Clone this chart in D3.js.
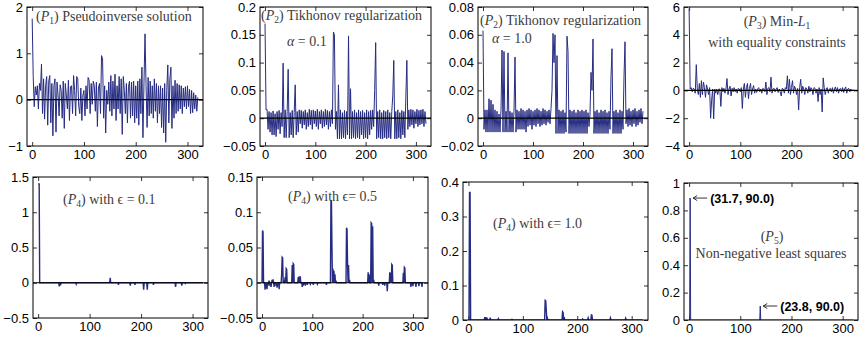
<!DOCTYPE html>
<html>
<head>
<meta charset="utf-8">
<script src="https://cdn.jsdelivr.net/npm/d3@7"></script>
<style>
  body { margin: 0; background: #fff; }
  svg { display: block; }
  .tick text { font-family: "Liberation Sans", Arial, sans-serif; font-size: 13px; fill: #000; }
  .title { font-family: "Liberation Serif", "Times New Roman", serif; font-size: 14px; fill: #3c3c3c; }
  .note { font-family: "Liberation Sans", Arial, sans-serif; font-size: 12.5px; font-weight: bold; fill: #000; }
</style>
</head>
<body>
<div id="chart"></div>
<script>
// ---- data ----
const xTicks = [0, 100, 200, 300];
const xDomain = [-10, 330];
const seriesLength = 321;

// dense series, one value every 2 samples (0, 2, 4, ... 320)
const p1Values = [
  1.75, 0.5, -0.15, 0.28, 0.1, 0.3, -0.2, 0.35, 0.2, 0.77,
  -0.3, 0.45, -0.42, 0.3, 0.5, -0.55, 0.4, 0.52, -0.5, 0.35,
  -0.78, 0.3, 0.45, -0.7, 0.38, 0.1, -0.35, 0.32, 0.2, -0.4,
  0.4, -0.62, 0.35, 0.1, -0.2, 0.42, -0.45, 0.28, 0.3, -0.3,
  0.52, 0.2, -0.35, 0.5, 0.45, -0.15, -0.3, 0.25, -0.45, 0.1,
  0.2, -0.35, 0.3, -0.2, 0.48, 0.42, -0.3, 0.35, -0.1, 0.4,
  0.3, -0.25, 0.38, -0.58, 0.25, 0.35, -0.3, 0.95, 0.88, -0.4,
  0.3, -0.72, 0.2, -0.1, 0.38, -0.25, 0.52, -0.35, 0.4, -0.2,
  0.55, -0.45, 0.3, -0.2, 0.5, -0.3, 0.45, -0.75, 0.5, 0.2,
  -0.3, 0.35, -0.5, 0.28, 0.4, -0.4, 0.38, -0.35, 0.4, -0.5,
  0.3, -0.4, 0.4, -0.55, 0.45, -0.3, 0.7, -0.82, 0.38, 1.42,
  0.3, -0.6, 0.48, -0.35, 0.4, -0.3, 0.3, -0.4, 0.45, -0.25,
  0.35, -0.5, 0.3, -0.3, 0.3, -0.6, 0.25, -0.72, 0.35, -0.92,
  0.2, 0.75, -0.5, 0.45, 0.7, -0.62, 0.3, -0.4, 0.42, -0.3,
  0.35, -0.25, 0.32, -0.2, 0.3, -0.3, 0.25, -0.15, 0.28, -0.2,
  0.3, -0.15, 0.22, -0.3, 0.2, -0.28, 0.15, -0.2, 0.1, -0.25, 0.05
];

const p2aValues = [
  0.17, 0.015, 0.016, -0.02, 0.012, -0.025, 0.01, -0.03, 0.013, -0.03,
  0.008, -0.033, 0.012, -0.02, 0.014, -0.028, 0.01, -0.015, 0.099, -0.035,
  0.015, -0.035, 0.012, 0.088, -0.035, 0.01, -0.03, 0.014, -0.035, 0.01,
  0.06, -0.03, 0.012, -0.025, 0.015, -0.01, 0.014, -0.018, 0.012, -0.012,
  0.015, -0.02, 0.01, -0.015, 0.016, -0.012, 0.014, -0.02, 0.015, -0.01,
  0.013, -0.015, 0.016, -0.02, 0.012, -0.01, 0.015, -0.018, 0.012, -0.015,
  0.016, -0.012, 0.014, -0.02, 0.012, -0.015, 0.015, -0.01, 0.155, 0.15,
  -0.02, 0.012, -0.037, 0.06, -0.037, 0.015, -0.037, 0.01, -0.035, 0.014,
  -0.037, 0.012, -0.03, 0.148, -0.037, 0.053, -0.037, 0.012, -0.035, 0.015,
  -0.037, 0.01, -0.035, 0.015, -0.037, 0.012, -0.03, 0.014, -0.037, 0.01,
  -0.035, 0.015, -0.037, 0.012, -0.03, 0.014, -0.02, 0.015, -0.015, 0.05,
  0.136, -0.037, 0.012, -0.035, 0.015, -0.037, 0.01, -0.037, 0.014, -0.035,
  0.012, -0.037, 0.015, -0.035, 0.01, -0.037, 0.012, 0.04, 0.104, -0.037,
  0.012, -0.037, 0.015, -0.035, 0.01, -0.037, 0.014, -0.03, 0.012, -0.035,
  0.038, 0.104, -0.02, 0.015, -0.015, 0.016, -0.012, 0.015, -0.018, 0.012,
  -0.01, 0.016, -0.015, 0.014, -0.012, 0.015, -0.01, 0.016, -0.015, 0.012, -0.01
];

const p2bValues = [
  0.063, -0.008, 0.006, -0.01, 0.006, -0.01, 0.014, -0.01, 0.013, -0.01,
  0.01, -0.01, 0.006, -0.01, 0.005, -0.01, 0.003, -0.01, 0.006, 0.049,
  -0.01, 0.048, -0.01, 0.005, -0.01, 0.047, -0.01, 0.005, -0.01, 0.004,
  -0.01, 0.005, 0.044, -0.01, 0.006, -0.008, 0.005, -0.008, 0.007, -0.008,
  0.006, -0.008, 0.005, -0.01, 0.006, -0.006, 0.007, -0.005, 0.006, -0.008,
  0.005, -0.005, 0.006, -0.006, 0.007, -0.004, 0.006, -0.006, 0.005, -0.005,
  0.007, -0.004, 0.006, -0.005, 0.005, -0.003, 0.006, -0.004, 0.007, 0.02,
  0.061, 0.04, 0.06, -0.011, 0.045, -0.011, 0.006, -0.011, 0.005, -0.011,
  0.006, -0.011, 0.004, -0.01, 0.059, 0.048, -0.011, 0.006, -0.011, 0.005,
  -0.011, 0.006, -0.011, 0.004, -0.011, 0.006, -0.011, 0.005, -0.011, 0.006,
  -0.011, 0.005, -0.011, 0.006, -0.011, 0.004, -0.006, 0.003, 0.033, 0.02,
  0.057, -0.011, 0.005, -0.011, 0.006, -0.011, 0.004, -0.011, 0.006, -0.011,
  0.005, -0.011, 0.006, -0.011, 0.004, -0.011, 0.005, -0.008, 0.03, 0.05,
  -0.011, 0.005, -0.011, 0.006, -0.011, 0.004, -0.011, 0.006, -0.011, 0.005,
  -0.008, 0.03, 0.055, -0.004, 0.006, -0.006, 0.007, -0.005, 0.005, -0.006,
  0.006, -0.004, 0.007, -0.006, 0.005, -0.005, 0.006, -0.003, 0.007, -0.004, 0.005
];

const p3Values = [
  5.9, 0.1, 0.2, -0.1, 0.15, 0.1, -0.2, 1.85, 0.1, -0.3,
  0.5, -0.5, 0.7, -0.3, 0.6, 0.2, -0.5, 0.4, 0.1, -0.3,
  0.2, -2.0, -0.7, 0.1, -2.05, 0.1, -0.2, 0.1, -0.3, 0.1,
  0.1, -1.15, 0.2, -0.1, 0.15, -0.2, 0.1, 0.85, -0.3, 0.1,
  0.3, -0.4, 0.15, -0.1, 0.2, -0.1, 0.1, -0.2, 0.15, 0.1,
  -0.1, 0.2, -1.3, 0.1, 0.5, -0.5, 0.2, 0.5, -0.6, 0.15,
  0.5, -0.3, 0.1, 0.35, -0.2, 0.1, -0.15, 0.1, 0.2, -0.1,
  0.1, -0.2, 0.15, 0.1, -0.1, 0.6, -0.3, 0.15, 0.2, -0.1,
  0.95, -0.2, 0.1, 0.15, -0.1, 0.1, 0.2, -0.15, 0.1, -0.1,
  -0.4, 0.15, 0.1, -0.2, 0.2, 0.1, 1.05, -0.2, 0.8, -0.3,
  0.2, 0.7, -0.2, 0.3, 0.1, -0.3, 0.15, -1.4, 0.2, 0.8,
  -0.2, 0.3, 0.1, -0.3, 0.2, 0.1, -0.2, 0.3, -0.1, 0.2,
  0.1, -0.3, 0.2, 0.15, -0.2, 0.1, -0.8, 0.2, -0.3, 0.1,
  -1.55, 0.9, 0.2, -0.3, 0.1, 0.2, -0.2, 0.1, 0.15, -0.1,
  0.2, -0.2, 0.1, 0.25, -0.1, 0.2, -0.2, 0.1, 0.15, -0.1,
  0.2, -0.15, 0.1, 0.25, -0.2, 0.1, 0.15, -0.1, 0.1, -0.05, 0.05
];

// sparse series: nonzero samples only, all other samples are zero
const p4aIndex = [0, 1, 2, 41, 44, 74, 140, 156, 179, 188, 205, 212, 224, 267, 279, 286];
const p4aValues = [1.4, 1.4, 1.4, -0.05, -0.02, -0.02, 0.07, -0.03, -0.04, -0.03, -0.1, -0.1, -0.03, -0.06, -0.04, -0.01];

const p4bIndex = [1, 2, 6, 8, 10, 12, 14, 16, 18, 20, 22, 24, 28, 30, 34,
  39, 40, 41, 43, 46, 48, 49, 60, 62, 63, 72, 74, 76,
  80, 82, 86, 90, 96, 102, 110, 128,
  137, 138, 139, 141, 143, 145, 147, 168, 169, 170, 172, 174,
  211, 213, 217, 218, 220, 222, 232, 240, 244, 249,
  254, 256, 258, 259, 281, 283, 284, 296, 300, 306, 312, 318];
const p4bValues = [0.074, 0.072, -0.01, -0.008, -0.009, -0.004, 0.003, -0.005, -0.006, 0.004, 0.005, -0.006, -0.005, -0.007, -0.009,
  0.012, 0.036, 0.035, 0.004, 0.008, 0.02, 0.019, 0.025, 0.027, 0.026, 0.008, 0.009, 0.009,
  -0.006, -0.004, -0.004, -0.003, -0.002, -0.003, -0.002, -0.003,
  0.117, 0.115, 0.055, 0.02, 0.017, 0.012, 0.003, 0.078, 0.076, 0.03, 0.025, 0.004,
  0.015, 0.012, 0.085, 0.084, 0.08, 0.004, -0.004, -0.003, -0.004, -0.012,
  0.015, 0.014, 0.026, 0.025, 0.014, 0.022, 0.021, -0.006, -0.005, -0.006, -0.005, -0.006];

const p4cIndex = [2, 3, 30, 32, 34, 40, 55, 80, 141, 142, 143, 145, 173, 174, 176, 210, 220, 226, 227, 261, 289];
const p4cValues = [0.37, 0.37, 0.008, 0.008, 0.007, 0.007, 0.004, 0.002, 0.057, 0.056, 0.03, 0.006, 0.024, 0.022, 0.008, 0.003, 0.006, 0.015, 0.014, 0.006, 0.005];

const p5Index = [2, 139];
const p5Values = [0.89, 0.102];

const p1YTicks = [-1, 0, 1, 2];
const p2aYTicks = [-0.05, 0, 0.05, 0.1, 0.15, 0.2];
const p2bYTicks = [-0.02, 0, 0.02, 0.04, 0.06, 0.08];
const p3YTicks = [-4, -2, 0, 2, 4, 6];
const p4aYTicks = [-0.5, 0, 0.5, 1, 1.5];
const p4bYTicks = [-0.05, 0, 0.05, 0.1, 0.15];
const p4cYTicks = [0, 0.1, 0.2, 0.3, 0.4];
const p5YTicks = [0, 0.2, 0.4, 0.6, 0.8, 1];

// ---- helpers ----
function denseSeries(values) {
  return values.map((v, i) => ({ x: i * 2, y: v }));
}
function sparseSeries(index, values) {
  const lookup = new Map(index.map((k, i) => [k, values[i]]));
  return d3.range(seriesLength).map(k => ({ x: k, y: lookup.has(k) ? lookup.get(k) : 0 }));
}
function fmt(d) {
  return d < 0 ? "\u2212" + Math.abs(d) : String(d);
}

const W = 859, H = 339;
const lineColor = "#262c82";

const svg = d3.select("#chart").append("svg")
  .attr("width", W)
  .attr("height", H);

// title parts: [text, "i" italic | "sub" subscript]
const P = (n) => [["("], ["P", "i"], [n, "sub"], [")"]];
const eps = "\u03f5";

const panels = [
  { box: [27, 7, 203, 146], yDomain: [-1, 2], yTicks: p1YTicks, data: denseSeries(p1Values), zero: true, sw: 1,
    titles: [{ x: 36, y: 21, parts: [...P("1"), [" Pseudoinverse solution"]] }] },
  { box: [260, 7, 431, 146], yDomain: [-0.05, 0.2], yTicks: p2aYTicks, data: denseSeries(p2aValues), zero: true, sw: 1,
    titles: [{ x: 261, y: 20, parts: [...P("2"), [" Tikhonov regularization"]] },
             { x: 287, y: 46, parts: [["\u03b1", "i"], [" = 0.1"]] }] },
  { box: [478, 7, 648, 146], yDomain: [-0.02, 0.08], yTicks: p2bYTicks, data: denseSeries(p2bValues), zero: true, sw: 1,
    titles: [{ x: 480, y: 25, parts: [...P("2"), [" Tikhonov regularization"]] },
             { x: 492, y: 43, parts: [["\u03b1", "i"], [" = 1.0"]] }] },
  { box: [684, 7, 858, 146], yDomain: [-4, 6], yTicks: p3YTicks, data: denseSeries(p3Values), zero: true, sw: 1,
    titles: [{ x: 777, y: 26, anchor: "middle", parts: [...P("3"), [" Min-"], ["L", "i"], ["1", "sub"]] },
             { x: 777, y: 47, anchor: "middle", parts: [["with equality constraints"]] }] },
  { box: [33, 177, 208, 318], yDomain: [-0.5, 1.5], yTicks: p4aYTicks, data: sparseSeries(p4aIndex, p4aValues), zero: true, sw: 1.4,
    titles: [{ x: 63, y: 204, parts: [...P("4"), [" with "], [eps], [" = 0.1"]] }] },
  { box: [257, 177, 428, 318], yDomain: [-0.05, 0.15], yTicks: p4bYTicks, data: sparseSeries(p4bIndex, p4bValues), zero: true, sw: 1.4,
    titles: [{ x: 288, y: 201, parts: [...P("4"), [" with "], [eps], ["= 0.5"]] }] },
  { box: [463, 182, 648, 320], yDomain: [0, 0.4], yTicks: p4cYTicks, data: sparseSeries(p4cIndex, p4cValues), zero: false, sw: 1.4,
    titles: [{ x: 493, y: 228, parts: [...P("4"), [" with "], [eps], ["= 1.0"]] }] },
  { box: [684, 183, 858, 320], yDomain: [0, 1], yTicks: p5YTicks, data: sparseSeries(p5Index, p5Values), zero: false, sw: 1,
    titles: [{ x: 772, y: 241, anchor: "middle", parts: P("5") },
             { x: 771, y: 258, anchor: "middle", parts: [["Non-negative least squares"]] }],
    notes: [{ at: [2, 0.89], text: "(31.7, 90.0)" }, { at: [139, 0.102], text: "(23.8, 90.0)" }] }
];

function addTitle(g, t) {
  const text = g.append("text")
    .attr("class", "title")
    .attr("x", t.x)
    .attr("y", t.y)
    .attr("text-anchor", t.anchor || "start");
  let shifted = false;
  t.parts.forEach(([s, kind]) => {
    const span = text.append("tspan").text(s);
    if (kind === "i") span.attr("font-style", "italic");
    if (kind === "sub") {
      span.attr("font-size", "9.5px").attr("dy", 3);
      shifted = true;
    } else if (shifted) {
      span.attr("dy", -3);
      shifted = false;
    }
  });
}

panels.forEach((p, pi) => {
  const [x0, y0, x1, y1] = p.box;
  const x = d3.scaleLinear().domain(xDomain).range([x0, x1]);
  const y = d3.scaleLinear().domain(p.yDomain).range([y1, y0]);
  const g = svg.append("g");

  g.append("clipPath").attr("id", "clip" + pi)
    .append("rect").attr("x", x0).attr("y", y0).attr("width", x1 - x0).attr("height", y1 - y0);

  // axes: labels left/bottom, mirrored inward ticks on top/right
  const tk = 4;
  g.append("g").attr("transform", `translate(${x0},0)`)
    .call(d3.axisLeft(y).tickValues(p.yTicks).tickFormat(fmt).tickSizeInner(-tk).tickSizeOuter(0).tickPadding(4));
  g.append("g").attr("transform", `translate(${x1},0)`)
    .call(d3.axisRight(y).tickValues(p.yTicks).tickFormat("").tickSizeInner(-tk).tickSizeOuter(0));
  g.append("g").attr("transform", `translate(0,${y1})`)
    .call(d3.axisBottom(x).tickValues(xTicks).tickFormat(fmt).tickSizeInner(-tk).tickSizeOuter(0).tickPadding(4));
  g.append("g").attr("transform", `translate(0,${y0})`)
    .call(d3.axisTop(x).tickValues(xTicks).tickFormat("").tickSizeInner(-tk).tickSizeOuter(0));
  g.selectAll(".domain").remove();
  g.selectAll(".tick line").attr("stroke", "#000").attr("stroke-width", 0.8);

  // data line
  const line = d3.line().x(d => x(d.x)).y(d => y(d.y));
  g.append("path")
    .datum(p.data)
    .attr("clip-path", `url(#clip${pi})`)
    .attr("fill", "none")
    .attr("stroke", lineColor)
    .attr("stroke-width", p.sw)
    .attr("stroke-linejoin", "miter")
    .attr("d", line);

  if (p.zero) {
    g.append("line")
      .attr("x1", x0).attr("x2", x1)
      .attr("y1", y(0)).attr("y2", y(0))
      .attr("stroke", "#000").attr("stroke-width", 1.2);
  }

  // frame
  g.append("rect")
    .attr("x", x0).attr("y", y0)
    .attr("width", x1 - x0).attr("height", y1 - y0)
    .attr("fill", "none").attr("stroke", "#000").attr("stroke-width", 1);

  p.titles.forEach(t => addTitle(g, t));

  (p.notes || []).forEach(n => {
    const ax = x(n.at[0]) + 3, ay = y(n.at[1]);
    g.append("line")
      .attr("x1", ax).attr("x2", ax + 14)
      .attr("y1", ay).attr("y2", ay)
      .attr("stroke", "#000").attr("stroke-width", 0.8);
    g.append("path")
      .attr("d", `M${ax},${ay}l4,-2.5M${ax},${ay}l4,2.5`)
      .attr("stroke", "#000").attr("stroke-width", 0.8).attr("fill", "none");
    g.append("text")
      .attr("class", "note")
      .attr("x", ax + 17)
      .attr("y", ay + 4.5)
      .text(n.text);
  });
});
</script>
</body>
</html>
